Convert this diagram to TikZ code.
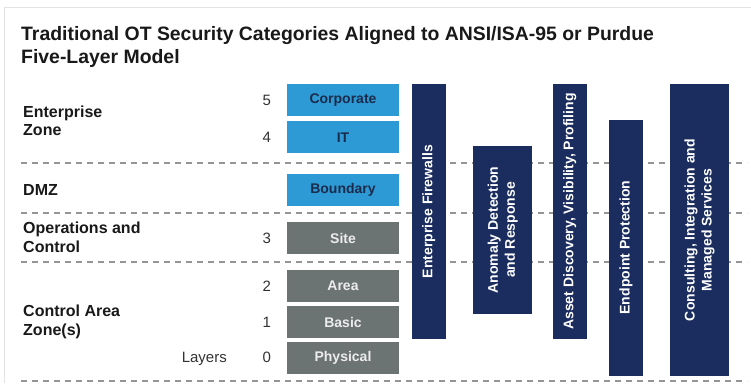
\documentclass[tikz,border=0pt]{standalone}
\usepackage{fontspec}
\setmainfont{Liberation Sans}
\begin{document}
\definecolor{layerblue}{HTML}{2D9AD6}
\definecolor{layergray}{HTML}{6C7473}
\definecolor{barnavy}{HTML}{1B2D5E}
\definecolor{bluetext}{HTML}{1B2B4B}
\definecolor{graytext}{HTML}{ECECEC}
\definecolor{sepgray}{HTML}{959595}
\definecolor{framegray}{HTML}{E2E2E2}
\definecolor{numgray}{HTML}{333333}
\begin{tikzpicture}[x=1pt,y=-1pt,
  title/.style={anchor=base west,inner sep=0,font=\bfseries\fontsize{19.4}{23}\selectfont,text=black!90,align=left},
  zone/.style={anchor=base west,inner sep=0,font=\bfseries\fontsize{16}{18.5}\selectfont,text=black!90,align=left},
  num/.style={inner sep=0,font=\fontsize{15}{18}\selectfont,text=numgray},
  layer/.style={inner sep=0,minimum width=112pt,minimum height=32pt,font=\bfseries\fontsize{14}{16}\selectfont},
  itlayer/.style={layer,fill=layerblue,text=bluetext},
  otlayer/.style={layer,fill=layergray,text=graytext},
  cat/.style={rotate=90,inner sep=0,fill=barnavy,text=white,align=center,font=\bfseries\fontsize{14}{17}\selectfont},
  sep/.style={draw=sepgray,line width=2pt,dash pattern=on 6pt off 5pt},
  frame/.style={draw=framegray,line width=1.5pt}
]
\useasboundingbox (0,0) rectangle (751,383);
\fill[white] (0,0) rectangle (751,383);

% panel frame (top and left edges)
\coordinate (fr1) at (751,7.5);
\coordinate (fr2) at (4.5,7.5);
\coordinate (fr3) at (4.5,383);
\draw[frame] (fr1) -- (fr2) -- (fr3);

% title (multi-line nodes sit on the baseline of their last line)
\node[title] (ttl) at (21,63) {Traditional OT Security Categories Aligned to ANSI/ISA-95 or Purdue\\Five-Layer Model};

% zone separators
\foreach \y/\n in {163/a,213/b,262/c,381/d}{
  \coordinate (s\n l) at (21,\y);
  \coordinate (s\n r) at (747,\y);
  \draw[sep] (s\n l) -- (s\n r);
}

% zone labels
\node[zone] (zent) at (23,135.5) {Enterprise\\Zone};
\node[zone] (zdmz) at (23,195) {DMZ};
\node[zone] (zops) at (23,252) {Operations and\\Control};
\node[zone] (zctl) at (23,335) {Control Area\\Zone(s)};
\node[num,anchor=base east] (lyr) at (227,362.5) {Layers};

% layer boxes
\node[itlayer] (l5) at (343,100.25) {Corporate};
\node[itlayer] (l4) at (343,137.25) {IT};
\node[itlayer] (ld) at (343,189.5) {Boundary};
\node[otlayer] (l3) at (343,238) {Site};
\node[otlayer] (l2) at (343,286) {Area};
\node[otlayer] (l1) at (343,322) {Basic};
\node[otlayer] (l0) at (343,357.75) {Physical};

% layer numbers
\foreach \b/\t in {l5/5,l4/4,l3/3,l2/2,l1/1,l0/0}{
  \node[num] (n\b) at ([xshift=-20pt]\b.west) {\t};
}

% security categories
\node[cat,minimum width=255pt,minimum height=34.5pt] (efw) at (428.75,211.5) {Enterprise Firewalls};
\node[cat,minimum width=168pt,minimum height=58.7pt] (adr) at (502.65,230) {Anomaly Detection\\and Response};
\node[cat,minimum width=255pt,minimum height=34pt] (adv) at (569.7,211.5) {Asset Discovery, Visibility, Profiling};
\node[cat,minimum width=256pt,minimum height=34pt] (epp) at (626,247.5) {Endpoint Protection};
\node[cat,minimum width=292pt,minimum height=59pt] (cim) at (699.5,230) {Consulting, Integration and\\Managed Services};
\end{tikzpicture}
\end{document}
